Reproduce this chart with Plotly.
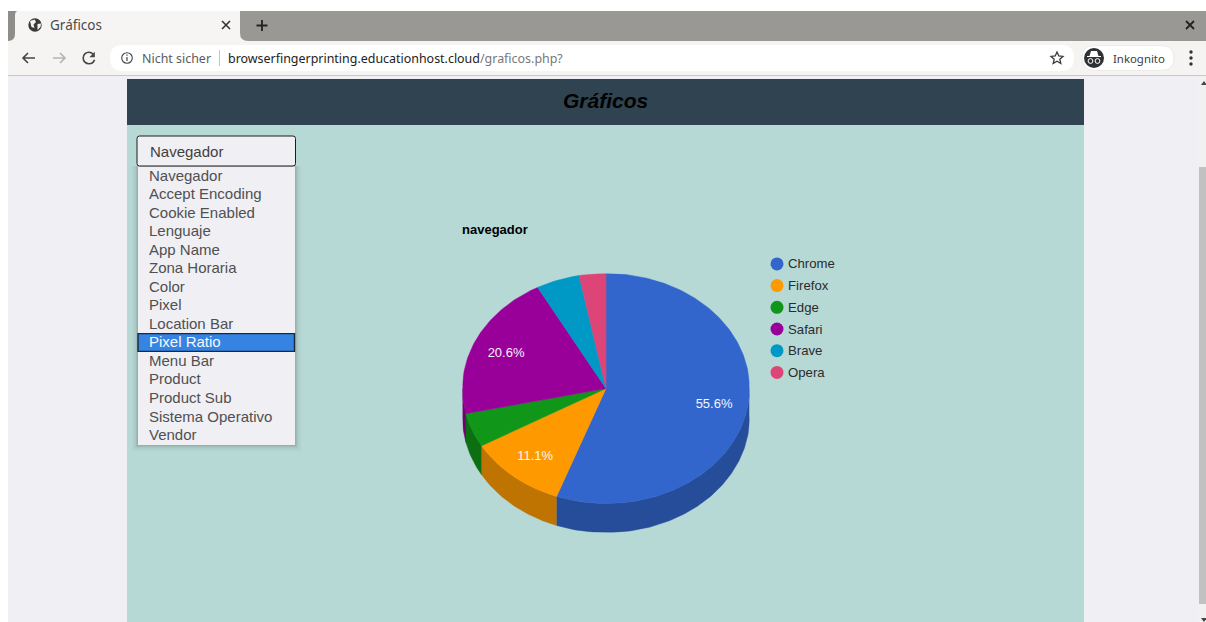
import numpy as np
import plotly.graph_objects as go

# Chart data
categories = ["Chrome", "Firefox", "Edge", "Safari", "Brave", "Opera"]
shares = [55.6, 11.1, 4.8, 20.6, 4.9, 3.0]
top_colors = ["#3366cc", "#ff9900", "#109618", "#990099", "#0099c6", "#dd4477"]
wall_colors = ["#264d99", "#bf7300", "#0c7012", "#730073", "#007394", "#a63357"]
chart_title = "navegador"

# Dropdown contents
select_options = ["Navegador", "Accept Encoding", "Cookie Enabled", "Lenguaje", "App Name",
                  "Zona Horaria", "Color", "Pixel", "Location Bar", "Pixel Ratio",
                  "Menu Bar", "Product", "Product Sub", "Sistema Operativo", "Vendor"]
highlighted_option = "Pixel Ratio"

W, H = 1206, 622
CX, CY, RX, RY, DEPTH = 606.0, 388.5, 143.5, 115.0, 29.0
SANS = "Liberation Sans"
UI = "Noto Sans"


def rounded(x0, y0, x1, y1, r):
    return (f"M{x0+r},{y0} L{x1-r},{y0} Q{x1},{y0} {x1},{y0+r} L{x1},{y1-r} Q{x1},{y1} {x1-r},{y1} "
            f"L{x0+r},{y1} Q{x0},{y1} {x0},{y1-r} L{x0},{y0+r} Q{x0},{y0} {x0+r},{y0} Z")


def rect(x0, y0, x1, y1, fill, line=None, lw=1):
    return dict(type="rect", xref="x", yref="y", x0=x0, y0=y0, x1=x1, y1=y1, fillcolor=fill,
                line=dict(color=line or fill, width=lw if line else 0), layer="below")


def path(d, fill="rgba(0,0,0,0)", line=None, lw=1):
    return dict(type="path", xref="x", yref="y", path=d, fillcolor=fill,
                line=dict(color=line or "rgba(0,0,0,0)", width=lw if line else 0), layer="below")


def circle(cx, cy, r, fill, line=None, lw=1):
    return dict(type="circle", xref="x", yref="y", x0=cx-r, y0=cy-r, x1=cx+r, y1=cy+r, fillcolor=fill,
                line=dict(color=line or fill, width=lw if line else 0), layer="below")


def label(x, y, text, size, color, family=SANS, anchor="left"):
    return dict(xref="x", yref="y", x=x, y=y, text=text, showarrow=False, xanchor=anchor, yanchor="middle",
                font=dict(size=size, color=color, family=family), borderpad=0, borderwidth=0)


shapes = [
    # Window background and page columns
    rect(8, 76, W, H, "#efeff4"),
    rect(127, 79, 1084, 125, "#2f4450"),
    rect(127, 125, 1084, H, "#b7d9d6"),
    # Tab strip and toolbar
    rect(8, 11, W, 41, "#f6f5f3"),
    path("M240,11 L1206,11 L1206,41 L248,41 Q240,41 240,33 Z", fill="#9a9895"),
    path("M8,11 L17,11 Q15,12 15,15 L15,34 Q15,41 8,41 Z", fill="#8f8d8a"),
    rect(8, 41, W, 75, "#f5f4f2"),
    rect(8, 75, W, 76, "#c9c8c6"),
    path(rounded(110, 45, 1074, 71, 13), fill="#ffffff"),
    rect(219, 50, 220, 66, "#c4c4c4"),
    # Tab icons
    circle(35, 25, 6.7, "#3a3a3a"),
    path("M30,21 L34.5,19.5 L36,22 L33.5,24.5 L34.5,28 L31.5,27 Z", fill="#f6f5f3"),
    path("M37.5,24 L41,23.5 L40.5,27 L37.5,30 Z", fill="#f6f5f3"),
    path("M222,21 L230,29 M230,21 L222,29", line="#333333", lw=1.6),
    path("M262,20 L262,31 M256.5,25.5 L267.5,25.5", line="#222222", lw=1.8),
    path("M1186,21 L1194,29 M1194,21 L1186,29", line="#222222", lw=1.8),
    # Navigation buttons
    path("M35,58 L23,58 M28,53 L23,58 L28,63", line="#444444", lw=1.6),
    path("M65,58 L53,58 M60,53 L65,58 L60,63", line="#b4b4b4", lw=1.6),
    path("M93.2,54.2 C91.9,52.8 90.5,52.2 89,52.2 C85.6,52.2 83.2,54.8 83.2,58 "
         "C83.2,61.2 85.8,63.8 89,63.8 C91.6,63.8 93.8,62.1 94.5,59.8", line="#444444", lw=1.6),
    path("M94.8,51.8 L94.8,57.2 L89.4,57.2 Z", fill="#444444"),
    circle(127, 58, 5.3, "#ffffff", line="#444444", lw=1.1),
    rect(126.4, 57, 127.6, 61, "#444444"),
    rect(126.4, 54.6, 127.6, 55.8, "#444444"),
    # Star, profile chip, overflow menu
    path("M1057,52 L1058.8,56 L1063,56.4 L1059.8,59.2 L1060.8,63.5 L1057,61.2 L1053.2,63.5 L1054.2,59.2 "
         "L1051,56.4 L1055.2,56 Z", line="#3a3a3a", lw=1.3),
    path(rounded(1082, 45.5, 1174, 70.5, 12.5), fill="#ffffff", line="#ebeae8", lw=1),
    circle(1094, 58, 10, "#2f3234"),
    path("M1087,56 L1101,56 L1101,57 L1087,57 Z M1089.5,56 L1091,51 L1097,51 L1098.5,56 Z", fill="#ffffff"),
    circle(1090.5, 61, 2.4, "#2f3234", line="#ffffff", lw=1),
    circle(1097.5, 61, 2.4, "#2f3234", line="#ffffff", lw=1),
    circle(1191, 52, 1.7, "#333333"),
    circle(1191, 58, 1.7, "#333333"),
    circle(1191, 64, 1.7, "#333333"),
    # Scrollbar
    rect(1198, 76, W, H, "#f1f1f1"),
    rect(1199, 167, W, 604, "#c1c1c1"),
    path("M1201,85 L1204,81 L1207,85 Z", fill="#444444"),
    path("M1201,618 L1204,622 L1207,618 Z", fill="#444444"),
]

# Dropdown popup with a soft shadow, closed control and highlighted row
for grow, alpha in [(6, 0.02), (4, 0.03), (2, 0.05), (1, 0.07)]:
    shapes.append(rect(137.5 - grow, 166, 295.5 + grow, 445.5 + grow, f"rgba(0,0,0,{alpha})"))
shapes.append(rect(137.5, 166, 295.5, 445.5, "#efeff4", line="#a9a9ab", lw=1))
shapes.append(path(rounded(137, 136, 295.5, 166, 2.5), fill="#efeff4", line="#1c1c1c", lw=1))

ROW0, ROW_STEP = 175.5, 18.54
row_hi = select_options.index(highlighted_option)
shapes.append(rect(138, ROW0 + row_hi * ROW_STEP - 8.7, 294.5, ROW0 + row_hi * ROW_STEP + 9,
                   "#3584e4", line="#1b2a38", lw=1.4))

annotations = [
    label(49.5, 25, "Gráficos", 13.5, "#4a4a4a", UI),
    label(142, 58, "Nicht sicher", 12.45, "#5a5a5a", UI),
    label(228, 58, 'browserfingerprinting.educationhost.cloud<span style="color:#777777">/graficos.php?</span>',
          12.45, "#222222", UI),
    label(1113, 58.5, "Inkognito", 11.4, "#3c3c3c", UI),
    label(605.5, 100, "<b><i>Gráficos</i></b>", 21, "#000000", anchor="center"),
    label(149.6, 151.5, select_options[0], 15, "#3f3f3f"),
    label(462.3, 229, f"<b>{chart_title}</b>", 13, "#000000"),
]
for i, option in enumerate(select_options):
    color = "#f6f8fc" if option == highlighted_option else "#505052"
    annotations.append(label(149.2, ROW0 + i * ROW_STEP - 0.5, option, 15, color))


def arc(start, stop):
    """Unit-circle points clockwise from twelve o'clock, angles in degrees."""
    t = np.radians(np.linspace(start, stop, max(2, int(abs(stop - start)) + 2)))
    return np.sin(t), np.cos(t)


fig = go.Figure()
# Invisible trace keeps the page axes alive for shapes and annotations
fig.add_trace(go.Scatter(x=[0, W], y=[0, H], mode="markers", marker=dict(opacity=0, size=1),
                         xaxis="x", yaxis="y", hoverinfo="skip", showlegend=False))

# The pie lives on its own axes, in units of the ellipse radii
depth_units = DEPTH / RY
edges = np.concatenate([[0.0], np.cumsum(shares)]) / sum(shares) * 360.0

for i, name in enumerate(categories):
    lo, hi = max(edges[i], 90.0), min(edges[i + 1], 270.0)
    if hi > lo:
        ax, ay = arc(lo, hi)
        fig.add_trace(go.Scatter(
            x=np.concatenate([ax, ax[::-1]]), y=np.concatenate([ay, ay[::-1] - depth_units]),
            fill="toself", mode="lines", line=dict(width=0.5, color=wall_colors[i]), fillcolor=wall_colors[i],
            xaxis="x2", yaxis="y2", hoverinfo="skip", showlegend=False))

for i, name in enumerate(categories):
    ax, ay = arc(edges[i], edges[i + 1])
    fig.add_trace(go.Scatter(
        x=np.concatenate([[0], ax, [0]]), y=np.concatenate([[0], ay, [0]]),
        fill="toself", mode="lines", line=dict(width=0.5, color=top_colors[i]), fillcolor=top_colors[i],
        xaxis="x2", yaxis="y2", name=name, text=f"{name}: {shares[i]}%", hoverinfo="text", showlegend=False))

# Percent labels only on the larger slices, nudged down to sit on the text's optical centre
LABEL_RADIUS = 0.765
LABEL_NUDGE = 1.2 / RY
big = [i for i, v in enumerate(shares) if v >= 10]
mids = np.radians([(edges[i] + edges[i + 1]) / 2 for i in big])
fig.add_trace(go.Scatter(
    x=LABEL_RADIUS * np.sin(mids), y=LABEL_RADIUS * np.cos(mids) - LABEL_NUDGE, mode="text",
    text=[f"{shares[i]:.1f}%" for i in big], textposition="middle center",
    textfont=dict(size=13, color="#f4f6fb", family=SANS),
    xaxis="x2", yaxis="y2", hoverinfo="skip", showlegend=False))

# Legend column
LEGEND_Y0, LEGEND_STEP = 263.9, 21.7
legend_y = [LEGEND_Y0 + i * LEGEND_STEP for i in range(len(categories))]
fig.add_trace(go.Scatter(
    x=[777] * len(categories), y=legend_y, mode="markers",
    marker=dict(size=13, color=top_colors, line=dict(width=0)),
    xaxis="x", yaxis="y", hoverinfo="skip", showlegend=False))
for name, y in zip(categories, legend_y):
    annotations.append(label(788.4, y, name, 13.2, "#2b2b2b"))

fig.update_layout(
    width=W, height=H, margin=dict(l=0, r=0, t=0, b=0), autosize=False,
    paper_bgcolor="#ffffff", plot_bgcolor="rgba(0,0,0,0)",
    shapes=shapes, annotations=annotations, showlegend=False,
    xaxis=dict(domain=[0, 1], range=[0, W], visible=False, fixedrange=True),
    yaxis=dict(domain=[0, 1], range=[H, 0], visible=False, fixedrange=True),
    xaxis2=dict(domain=[(CX - RX) / W, (CX + RX) / W], range=[-1, 1], visible=False, anchor="y2", fixedrange=True),
    yaxis2=dict(domain=[1 - (CY + RY + DEPTH) / H, 1 - (CY - RY) / H], range=[-1 - depth_units, 1],
                visible=False, anchor="x2", fixedrange=True),
)

fig.write_html("out.html", config=dict(displayModeBar=False))
